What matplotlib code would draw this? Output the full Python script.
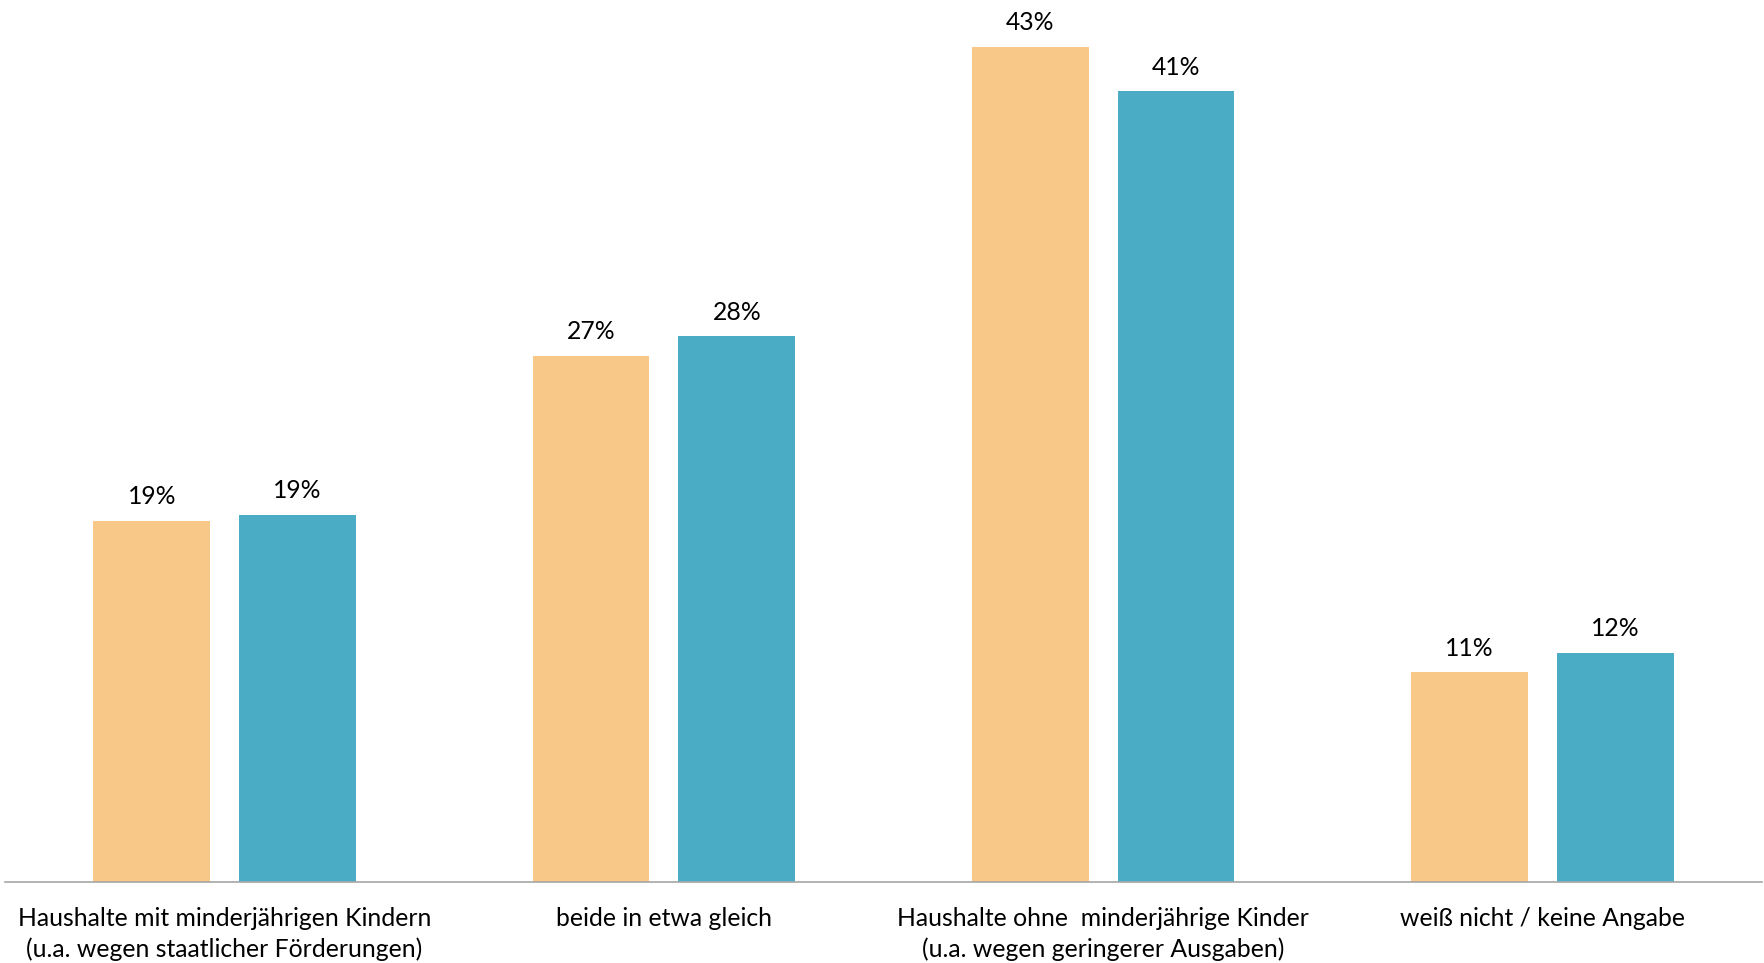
import matplotlib.pyplot as plt
import numpy as np

plt.rcParams['font.family'] = ['Lato', 'DejaVu Sans']

# data
categories = [
    "Haushalte mit minderjährigen Kindern\n(u.a. wegen staatlicher Förderungen)",
    "beide in etwa gleich",
    "Haushalte ohne  minderjährige Kinder\n(u.a. wegen geringerer Ausgaben)",
    "weiß nicht / keine Angabe",
]
series_a = [18.6, 27.1, 43.0, 10.8]
series_b = [18.9, 28.1, 40.7, 11.8]
labels_a = ["19%", "27%", "43%", "11%"]
labels_b = ["19%", "28%", "41%", "12%"]

fig = plt.figure(figsize=(17.65, 9.63), dpi=100)
ax = fig.add_axes([5 / 1765, 1 - 882 / 963, 1757 / 1765, 882 / 963])

x = np.arange(len(categories))
w = 0.266
off = 0.166
bars_a = ax.bar(x - off, series_a, w, color="#F8C888")
bars_b = ax.bar(x + off, series_b, w, color="#4BACC6")

for bars, labs in [(bars_a, labels_a), (bars_b, labels_b)]:
    for b, lab in zip(bars, labs):
        ax.annotate(lab, (b.get_x() + b.get_width() / 2, b.get_height()),
                    xytext=(0, 9), textcoords="offset points",
                    ha="center", va="bottom", fontsize=17.8, color="black")

ax.set_xlim(-0.5, 3.5)
ax.set_ylim(0, 45.4)
ax.set_yticks([])
ax.set_xticks(x)
ax.set_xticklabels(categories, fontsize=17.8, linespacing=1.4)
ax.tick_params(axis="x", length=0, pad=18)
for s in ["top", "right", "left"]:
    ax.spines[s].set_visible(False)
ax.spines["bottom"].set_color("#A6A6A6")
ax.spines["bottom"].set_linewidth(1.2)

plt.savefig("out.png", dpi=100)
